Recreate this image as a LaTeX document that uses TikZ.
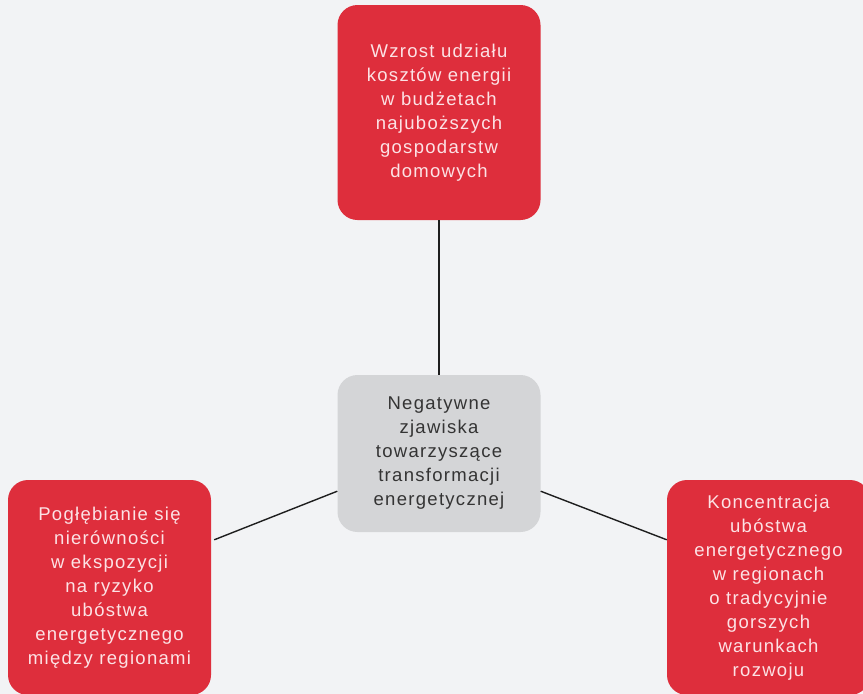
\documentclass[tikz,border=0pt]{standalone}
\usepackage{fontspec}
\setmainfont{Liberation Sans}[LetterSpace=7]
\definecolor{bg}{RGB}{242,243,245}
\definecolor{boxred}{RGB}{222,46,60}
\definecolor{boxgray}{RGB}{212,213,215}
\definecolor{redtext}{RGB}{252,226,229}
\definecolor{graytext}{RGB}{52,52,52}
\definecolor{linecol}{RGB}{30,30,30}
\tikzset{
  base/.style={rectangle, rounded corners=20pt, align=center, inner sep=0pt,
    font=\fontsize{18.5pt}{24pt}\selectfont},
  redbox/.style={base, fill=boxred, text=redtext, minimum width=203pt, minimum height=215pt},
  graybox/.style={base, fill=boxgray, text=graytext, minimum width=203pt, minimum height=157pt},
  conn/.style={draw=linecol, line width=1.4pt}
}
\begin{document}
\begin{tikzpicture}[x=1pt,y=-1pt]
\fill[bg] (0,0) rectangle (863,694);
\useasboundingbox (0,0) rectangle (863,694);
\clip (0,0) rectangle (863,694);
\node[redbox] (t) at (439,112.5) {Wzrost udziału\\kosztów energii\\w budżetach\\najuboższych\\gospodarstw\\domowych};
\node[graybox] (c) at (439,453.5) {Negatywne\\zjawiska\\towarzyszące\\transformacji\\energetycznej};
\node[redbox] (l) at (109.5,587.5) {Pogłębianie się\\nierówności\\w ekspozycji\\na ryzyko\\ubóstwa\\energetycznego\\między regionami};
\node[redbox] (r) at (768.5,587.5) {Koncentracja\\ubóstwa\\energetycznego\\w regionach\\o tradycyjnie\\gorszych\\warunkach\\rozwoju};
\draw[conn] (t.south) -- (c.north);
\draw[conn] ([yshift=41pt]c.south west) -- ([yshift=-60pt,xshift=3pt]l.north east);
\draw[conn] ([yshift=41pt]c.south east) -- ([yshift=-60pt]r.north west);
\end{tikzpicture}
\end{document}
